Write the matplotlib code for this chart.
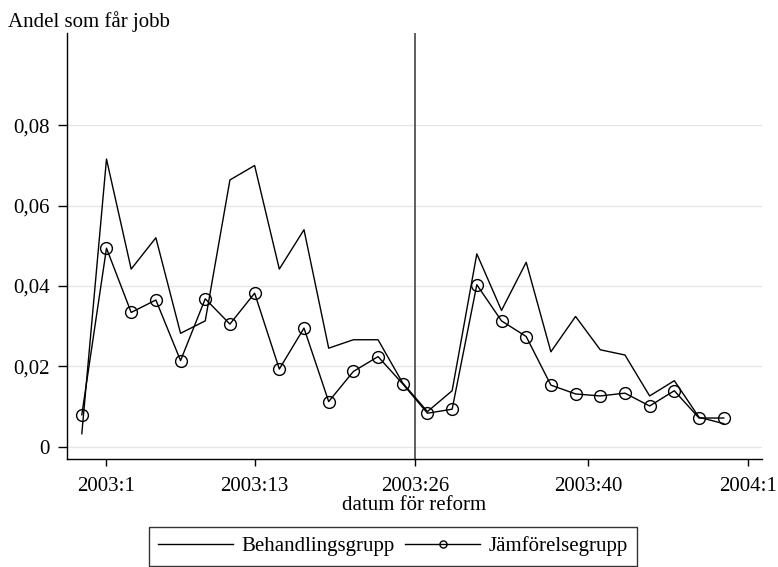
import numpy as np
import matplotlib
matplotlib.use("Agg")
import matplotlib.pyplot as plt
from matplotlib.ticker import FuncFormatter

# week index (2003:1 = 1, 2004:1 = 53), every second week
weeks = [-1, 1, 3, 5, 7, 9, 11, 13, 15, 17, 19, 21, 23, 25,
         27, 29, 31, 33, 35, 37, 39, 41, 43, 45, 47, 49, 51]

behandling = [0.0032, 0.0716, 0.0442, 0.0520, 0.0282, 0.0313, 0.0664, 0.0700,
              0.0442, 0.0540, 0.0245, 0.0266, 0.0266, 0.0158,
              0.0087, 0.0139, 0.0480, 0.0339, 0.0459, 0.0236, 0.0324, 0.0241,
              0.0228, 0.0126, 0.0164, 0.0073, 0.0057]

jamforelse = [0.0079, 0.0494, 0.0334, 0.0365, 0.0214, 0.0368, 0.0305, 0.0382,
              0.0193, 0.0295, 0.0112, 0.0187, 0.0224, 0.0156,
              0.0083, 0.0093, 0.0403, 0.0313, 0.0274, 0.0153, 0.0131, 0.0126,
              0.0133, 0.0101, 0.0139, 0.0071, 0.0071]

xtick_pos = [1, 13, 26, 40, 53]
xtick_labels = ["2003:1", "2003:13", "2003:26", "2003:40", "2004:1"]
ytick_pos = [0, 0.02, 0.04, 0.06, 0.08]
reform_week = 26

plt.rcParams['font.family'] = ['Liberation Serif', 'DejaVu Serif']
fs = 15

fig = plt.figure(figsize=(7.78, 5.67), dpi=100)
ax = fig.add_axes([0.0861, 0.1905, 0.8933, 0.7513])

ax.plot(weeks, behandling, color='black', lw=1.0, label='Behandlingsgrupp')
ax.plot(weeks, jamforelse, color='black', lw=1.0, marker='o', ms=8.5,
        mfc='none', mec='black', mew=1.0, label='Jämförelsegrupp')
ax.axvline(reform_week, color='#444444', lw=1.2, zorder=1)

ax.set_xlim(-2.2, 54.1)
ax.set_ylim(-0.0031, 0.103)
ax.set_xticks(xtick_pos)
ax.set_xticklabels(xtick_labels)
ax.set_yticks(ytick_pos)
ax.yaxis.set_major_formatter(FuncFormatter(
    lambda v, p: "0" if v == 0 else f"{v:.2f}".replace(".", ",")))
ax.grid(axis='y', color='#e6e6e6', lw=1.0)
ax.set_axisbelow(True)

for s in ['top', 'right']:
    ax.spines[s].set_visible(False)
for s in ['left', 'bottom']:
    ax.spines[s].set_linewidth(1.0)
ax.tick_params(axis='x', direction='out', length=5, width=1.0, labelsize=fs, pad=8)
ax.tick_params(axis='y', direction='out', length=6.5, width=1.0, labelsize=fs, pad=6)

ax.set_xlabel('datum för reform', fontsize=fs, va='center')
ax.xaxis.set_label_coords(0.5, -0.11)
fig.text(0.010, 0.962, 'Andel som får jobb', fontsize=fs, ha='left', va='center')

leg = fig.legend(loc='upper center', bbox_to_anchor=(0.5055, 0.089), ncol=2,
                 fontsize=fs, frameon=True, fancybox=False, edgecolor='black',
                 handlelength=3.6, columnspacing=0.5, borderpad=0.45,
                 handletextpad=0.4, markerscale=0.6)
leg.get_frame().set_linewidth(1.0)

fig.savefig('out.png', dpi=100)
